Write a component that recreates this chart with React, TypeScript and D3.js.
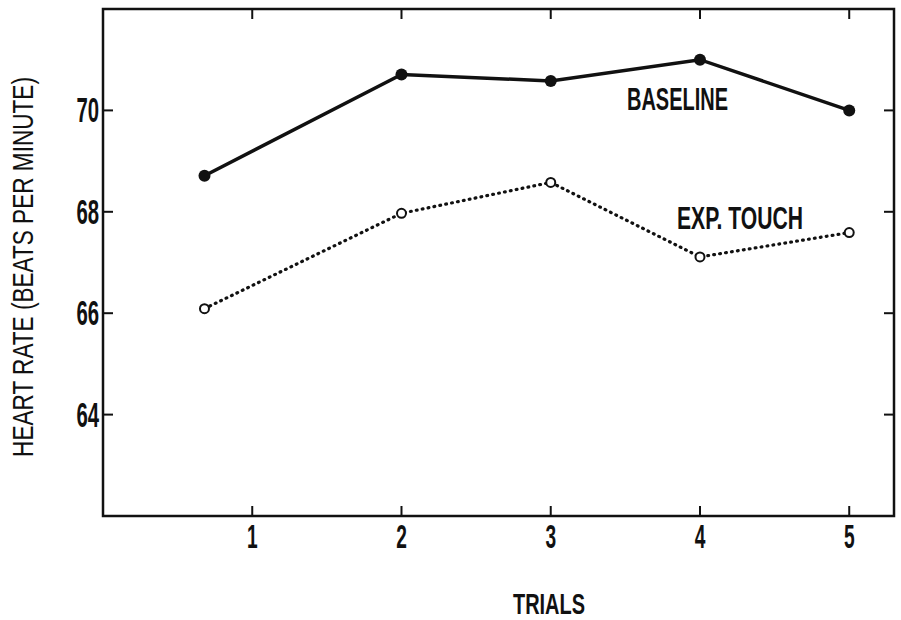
import { useEffect, useRef } from "react";
import * as d3 from "d3";

// trial positions (first point sits left of tick 1 in the original)
const trials = [0.68, 2, 3, 4, 5];
const baseline = [68.71, 70.71, 70.58, 71.0, 70.0];
const expTouch = [66.09, 67.97, 68.58, 67.11, 67.59];
const xTicks = [1, 2, 3, 4, 5];
const yTicks = [64, 66, 68, 70];

const W = 901;
const H = 620;
const margin = { top: 9, right: 7, bottom: 104, left: 103 };
const FONT = "'Liberation Sans', Arial, sans-serif";
const SQUEEZE = 0.58;

export default function App() {
  const ref = useRef<SVGSVGElement | null>(null);

  useEffect(() => {
    const svg = d3.select(ref.current);
    svg.selectAll("*").remove();

    const x = d3.scaleLinear().domain([0, 5.3]).range([margin.left, W - margin.right]);
    const y = d3.scaleLinear().domain([62, 72]).range([H - margin.bottom, margin.top]);

    const x0 = x.range()[0], x1 = x.range()[1];
    const y0 = y.range()[0], y1 = y.range()[1];

    // frame
    svg.append("rect")
      .attr("x", x0).attr("y", y1)
      .attr("width", x1 - x0).attr("height", y0 - y1)
      .attr("fill", "none").attr("stroke", "#111").attr("stroke-width", 2.5);

    // inward ticks on all four sides
    const tickG = svg.append("g").attr("stroke", "#111").attr("stroke-width", 2);
    xTicks.forEach(t => {
      tickG.append("line").attr("x1", x(t)).attr("x2", x(t)).attr("y1", y0).attr("y2", y0 - 10);
      tickG.append("line").attr("x1", x(t)).attr("x2", x(t)).attr("y1", y1).attr("y2", y1 + 10);
    });
    yTicks.forEach(t => {
      tickG.append("line").attr("x1", x0).attr("x2", x0 + 10).attr("y1", y(t)).attr("y2", y(t));
      tickG.append("line").attr("x1", x1).attr("x2", x1 - 10).attr("y1", y(t)).attr("y2", y(t));
    });

    // tick labels
    svg.selectAll(".ylab")
      .data(yTicks)
      .join("text")
      .attr("class", "ylab")
      .attr("transform", d => `translate(${x0 - 4},${y(d) + 12}) scale(${SQUEEZE},1)`)
      .attr("text-anchor", "end")
      .attr("font-family", FONT)
      .attr("font-size", 35)
      .attr("font-weight", "bold")
      .attr("fill", "#111")
      .text(d => d);

    svg.selectAll(".xlab")
      .data(xTicks)
      .join("text")
      .attr("class", "xlab")
      .attr("transform", d => `translate(${x(d)},${y0 + 32}) scale(${SQUEEZE},1)`)
      .attr("text-anchor", "middle")
      .attr("font-family", FONT)
      .attr("font-size", 33)
      .attr("font-weight", "bold")
      .attr("fill", "#111")
      .text(d => d);

    const line = d3.line<number>()
      .x((d, i) => x(trials[i]))
      .y(d => y(d));

    svg.append("path")
      .datum(baseline)
      .attr("d", line)
      .attr("fill", "none")
      .attr("stroke", "#111")
      .attr("stroke-width", 3.5);

    svg.append("path")
      .datum(expTouch)
      .attr("d", line)
      .attr("fill", "none")
      .attr("stroke", "#111")
      .attr("stroke-width", 3.2)
      .attr("stroke-linecap", "round")
      .attr("stroke-dasharray", "0.8 5.2");

    svg.selectAll(".bdot")
      .data(baseline)
      .join("circle")
      .attr("class", "bdot")
      .attr("cx", (d, i) => x(trials[i]))
      .attr("cy", d => y(d))
      .attr("r", 6)
      .attr("fill", "#111");

    svg.selectAll(".edot")
      .data(expTouch)
      .join("circle")
      .attr("class", "edot")
      .attr("cx", (d, i) => x(trials[i]))
      .attr("cy", d => y(d))
      .attr("r", 4.5)
      .attr("fill", "#fff")
      .attr("stroke", "#111")
      .attr("stroke-width", 2);

    // series labels
    const label = (txt: string, lx: number, ly: number, len: number) =>
      svg.append("text")
        .attr("x", lx).attr("y", ly)
        .attr("font-family", FONT)
        .attr("font-size", 31)
        .attr("font-weight", "bold")
        .attr("fill", "#111")
        .attr("textLength", len)
        .attr("lengthAdjust", "spacingAndGlyphs")
        .text(txt);
    label("BASELINE", 627, 110, 101);
    label("EXP. TOUCH", 677, 229, 126);

    // axis titles
    svg.append("text")
      .attr("x", 549).attr("y", 614)
      .attr("text-anchor", "middle")
      .attr("font-family", FONT)
      .attr("font-size", 30)
      .attr("font-weight", "bold")
      .attr("fill", "#111")
      .attr("textLength", 72)
      .attr("lengthAdjust", "spacingAndGlyphs")
      .text("TRIALS");

    const yTitle = svg.append("text")
      .attr("text-anchor", "middle")
      .attr("font-family", FONT)
      .attr("font-size", 29)
      .attr("fill", "#111")
      .text("HEART RATE (BEATS PER MINUTE)");
    const natural = (yTitle.node() as SVGTextElement).getComputedTextLength() || 380;
    yTitle.attr("transform", `translate(33,267) rotate(-90) scale(${380 / natural},1)`);
  }, []);

  return (
    <svg
      ref={ref}
      width={W}
      height={H}
      style={{ position: "absolute", left: 0, top: 0, background: "#fff" }}
    />
  );
}
